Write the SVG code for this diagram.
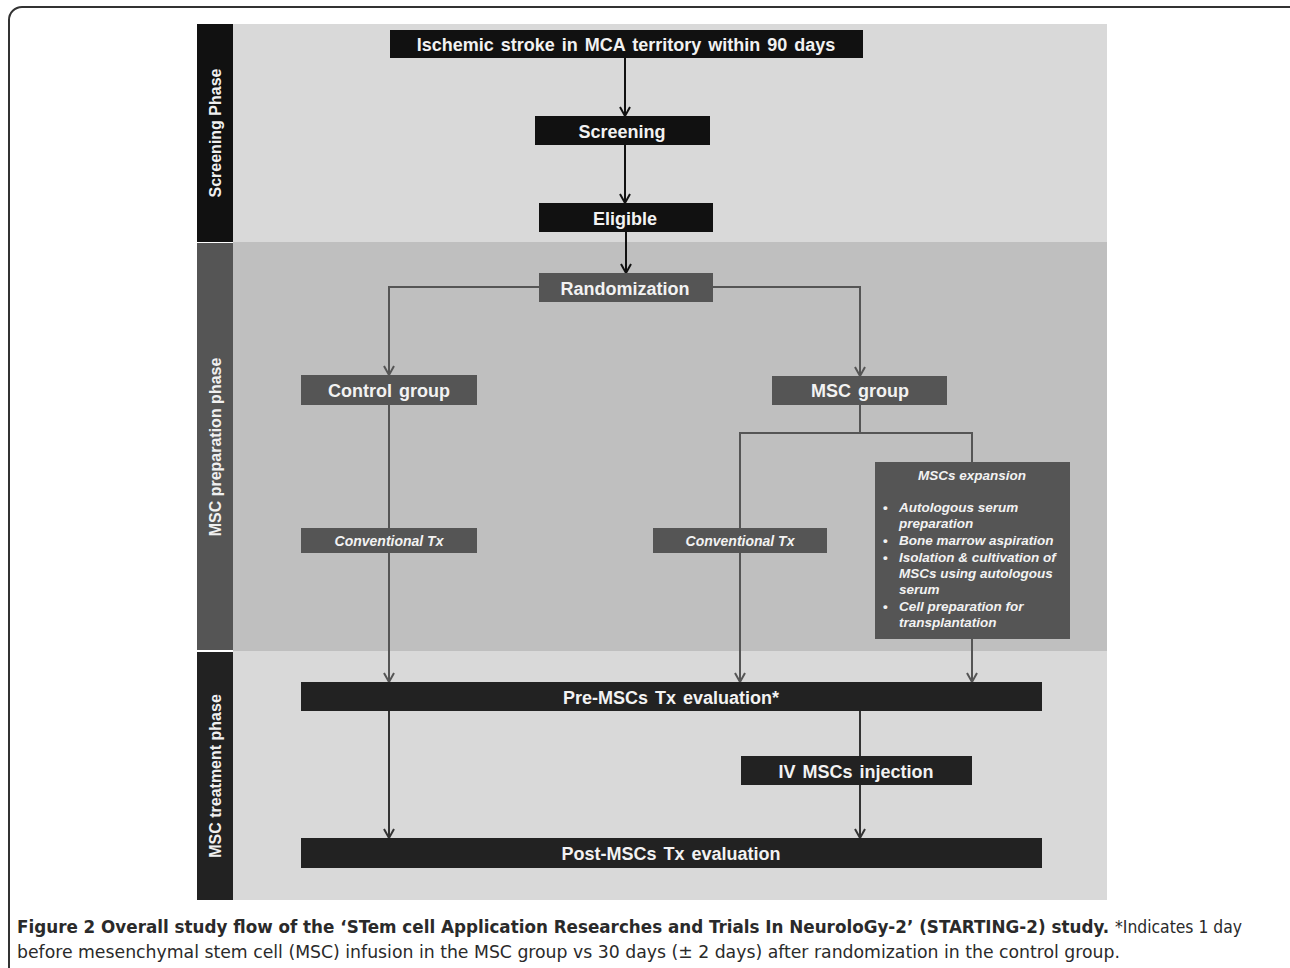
<svg xmlns="http://www.w3.org/2000/svg" width="1290" height="968" viewBox="0 0 1290 968">
<defs>
<style>
.bx{font-family:"Liberation Sans",Arial,sans-serif;font-weight:bold;fill:#f2f2f2;text-anchor:middle}
.big{font-size:18px;word-spacing:2px}
.it{font-size:14px;font-style:italic}
.sm{font-size:13.5px;font-style:italic}
.ph{font-family:"Liberation Sans",Arial,sans-serif;font-weight:bold;font-size:16px;fill:#f0f0f0;text-anchor:middle}
.cb{stroke:#111;stroke-width:2;fill:none}
.cg{stroke:#555;stroke-width:2;fill:none}
.cd{stroke:#333;stroke-width:2;fill:none}
.cap{font-family:"Liberation Sans Narrow","DejaVu Sans Condensed","Liberation Sans",sans-serif;font-size:18.5px;fill:#2a2a2a}
</style>
<marker id="ab" markerUnits="userSpaceOnUse" markerWidth="14" markerHeight="14" viewBox="-1 -7 12 14" refX="9" refY="0" orient="auto"><path d="M0,-5 L9,0 L0,5" fill="none" stroke="#111" stroke-width="2"/></marker>
<marker id="ag" markerUnits="userSpaceOnUse" markerWidth="14" markerHeight="14" viewBox="-1 -7 12 14" refX="9" refY="0" orient="auto"><path d="M0,-5 L9,0 L0,5" fill="none" stroke="#555" stroke-width="2"/></marker>
<marker id="ad" markerUnits="userSpaceOnUse" markerWidth="14" markerHeight="14" viewBox="-1 -7 12 14" refX="9" refY="0" orient="auto"><path d="M0,-5 L9,0 L0,5" fill="none" stroke="#333" stroke-width="2"/></marker>
</defs>
<rect x="0" y="0" width="1290" height="968" fill="#ffffff"/>
<rect x="9" y="7" width="1300" height="1000" rx="13" fill="none" stroke="#333" stroke-width="2"/>

<g id="backgrounds">
<rect x="233" y="24" width="874" height="218" fill="#d9d9d9"/>
<rect x="233" y="242" width="874" height="409" fill="#bfbfbf"/>
<rect x="233" y="651" width="874" height="249" fill="#d9d9d9"/>
</g>

<g id="phase-screening">
<rect x="197" y="24" width="36" height="218" fill="#111"/>
<text class="ph" transform="translate(221,133) rotate(-90)">Screening Phase</text>
</g>
<g id="phase-preparation">
<rect x="197" y="243" width="36" height="407" fill="#555"/>
<text class="ph" transform="translate(221,447) rotate(-90)">MSC preparation phase</text>
</g>
<g id="phase-treatment">
<rect x="197" y="652" width="36" height="248" fill="#222"/>
<text class="ph" transform="translate(221,776) rotate(-90)">MSC treatment phase</text>
</g>

<g id="connectors">
<line class="cb" x1="625" y1="58" x2="625" y2="116" marker-end="url(#ab)"/>
<line class="cb" x1="625" y1="145" x2="625" y2="203" marker-end="url(#ab)"/>
<line class="cb" x1="626" y1="232" x2="626" y2="273" marker-end="url(#ab)"/>
<polyline class="cg" points="539,287 389,287 389,375" marker-end="url(#ag)"/>
<polyline class="cg" points="713,287 860,287 860,376" marker-end="url(#ag)"/>
<line class="cg" x1="389" y1="405" x2="389" y2="528"/>
<line class="cg" x1="389" y1="553" x2="389" y2="682" marker-end="url(#ag)"/>
<line class="cg" x1="860" y1="405" x2="860" y2="433"/>
<polyline class="cg" points="740,528 740,433 972,433 972,462"/>
<line class="cg" x1="740" y1="553" x2="740" y2="682" marker-end="url(#ag)"/>
<line class="cg" x1="972" y1="639" x2="972" y2="682" marker-end="url(#ag)"/>
<line class="cd" x1="389" y1="711" x2="389" y2="838" marker-end="url(#ad)"/>
<line class="cd" x1="860" y1="711" x2="860" y2="756"/>
<line class="cd" x1="860" y1="785" x2="860" y2="838" marker-end="url(#ad)"/>
</g>

<g id="n-ischemic">
<rect x="390" y="30" width="473" height="28" fill="#111"/>
<text class="bx big" x="626" y="51">Ischemic stroke in MCA territory within 90 days</text>
</g>
<g id="n-screening">
<rect x="535" y="116" width="175" height="29" fill="#111"/>
<text class="bx big" x="622" y="137.5">Screening</text>
</g>
<g id="n-eligible">
<rect x="539" y="203" width="174" height="29" fill="#111"/>
<text class="bx big" x="625" y="224.5">Eligible</text>
</g>
<g id="n-randomization">
<rect x="539" y="273" width="174" height="29" fill="#555"/>
<text class="bx big" x="625" y="294.5">Randomization</text>
</g>
<g id="n-control">
<rect x="301" y="375" width="176" height="30" fill="#555"/>
<text class="bx big" x="389" y="397">Control group</text>
</g>
<g id="n-msc">
<rect x="772" y="376" width="175" height="29" fill="#555"/>
<text class="bx big" x="860" y="397">MSC group</text>
</g>
<g id="n-conv-left">
<rect x="301" y="528" width="176" height="25" fill="#555"/>
<text class="bx it" x="389" y="546">Conventional Tx</text>
</g>
<g id="n-conv-right">
<rect x="653" y="528" width="174" height="25" fill="#555"/>
<text class="bx it" x="740" y="546">Conventional Tx</text>
</g>
<g id="n-expansion">
<rect x="875" y="462" width="195" height="177" fill="#555"/>
<text class="bx sm" x="972" y="480">MSCs expansion</text>
<g class="bx sm" style="text-anchor:start">
<text x="883" y="512" style="font-style:normal">•</text>
<text x="899" y="512">Autologous serum</text>
<text x="899" y="528">preparation</text>
<text x="883" y="545" style="font-style:normal">•</text>
<text x="899" y="545">Bone marrow aspiration</text>
<text x="883" y="562" style="font-style:normal">•</text>
<text x="899" y="562">Isolation &amp; cultivation of</text>
<text x="899" y="578">MSCs using autologous</text>
<text x="899" y="594">serum</text>
<text x="883" y="611" style="font-style:normal">•</text>
<text x="899" y="611">Cell preparation for</text>
<text x="899" y="627">transplantation</text>
</g>
</g>
<g id="n-pre">
<rect x="301" y="682" width="741" height="29" fill="#222"/>
<text class="bx big" x="671" y="703.5">Pre-MSCs Tx evaluation*</text>
</g>
<g id="n-iv">
<rect x="741" y="756" width="231" height="29" fill="#222"/>
<text class="bx big" x="856" y="777.5">IV MSCs injection</text>
</g>
<g id="n-post">
<rect x="301" y="838" width="741" height="30" fill="#222"/>
<text class="bx big" x="671" y="860">Post-MSCs Tx evaluation</text>
</g>

<g id="caption">
<text class="cap" x="17" y="933" font-weight="bold" textLength="1092" lengthAdjust="spacingAndGlyphs">Figure 2 Overall study flow of the ‘STem cell Application Researches and Trials In NeuroloGy-2’ (STARTING-2) study.</text>
<text class="cap" x="1115" y="933" textLength="127" lengthAdjust="spacingAndGlyphs">*Indicates 1 day</text>
<text class="cap" x="17" y="958" textLength="1103" lengthAdjust="spacingAndGlyphs">before mesenchymal stem cell (MSC) infusion in the MSC group vs 30 days (± 2 days) after randomization in the control group.</text>
</g>
</svg>
